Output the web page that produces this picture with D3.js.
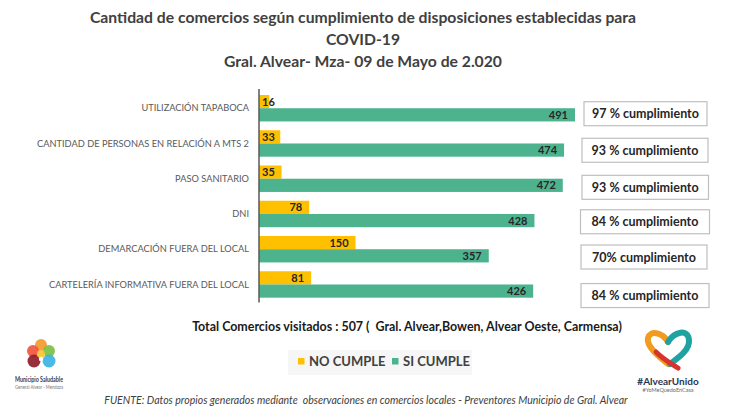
<!DOCTYPE html>
<html>
<head>
<meta charset="utf-8">
<script src="https://cdn.jsdelivr.net/npm/d3@7"></script>
<style>
  body { margin: 0; background: #fff; }
  svg { display: block; font-family: Lato, "Open Sans", sans-serif; }
  text { white-space: pre; }
</style>
</head>
<body>
<div id="viz"></div>
<script>
// data
var categories = [
  "UTILIZACIÓN TAPABOCA",
  "CANTIDAD DE PERSONAS EN RELACIÓN A MTS 2",
  "PASO SANITARIO",
  "DNI",
  "DEMARCACIÓN FUERA DEL LOCAL",
  "CARTELERÍA INFORMATIVA FUERA DEL LOCAL"
];
var series = ["NO CUMPLE", "SI CUMPLE"];
var noCumple = [16, 33, 35, 78, 150, 81];
var siCumple = [491, 474, 472, 428, 357, 426];
var cumplimiento = [
  "97 % cumplimiento",
  "93 % cumplimiento",
  "93 % cumplimiento",
  "84 % cumplimiento",
  "70% cumplimiento",
  "84 % cumplimiento"
];
var titleLines = [
  "Cantidad de comercios según cumplimiento de disposiciones establecidas para",
  "COVID-19",
  "Gral. Alvear- Mza- 09 de Mayo de 2.020"
];
var totalText = "Total Comercios visitados : 507 (  Gral. Alvear,Bowen, Alvear Oeste, Carmensa)";
var sourceText = "FUENTE: Datos propios generados mediante  observaciones en comercios locales - Preventores Municipio de Gral. Alvear";

var colors = { "NO CUMPLE": "#ffc000", "SI CUMPLE": "#4db38e" };

var width = 750, height = 420;

var svg = d3.select("#viz").append("svg")
  .attr("width", width)
  .attr("height", height);

// shrink/grow font so a text fills the width seen in the picture
function fit(sel, target) {
  sel.each(function() {
    var w = this.getComputedTextLength();
    var fs = parseFloat(d3.select(this).attr("font-size"));
    d3.select(this).attr("font-size", (fs * target / w).toFixed(2));
  });
}

// title
var title = svg.append("g").attr("fill", "#404040").attr("font-weight", "bold");
title.selectAll("text")
  .data(titleLines)
  .enter()
  .append("text")
    .attr("x", 363)
    .attr("y", function(d, i) { return 23 + i * 22; })
    .attr("text-anchor", "middle")
    .attr("font-size", 16)
    .text(function(d) { return d; });
fit(title.select("text"), 546);
var tfs = title.select("text").attr("font-size");
title.selectAll("text").attr("font-size", tfs);

// scales
var x = d3.scaleLinear().domain([0, 500]).range([259, 580.8]);
var y = d3.scaleBand().domain(categories).range([90.6, 302.1]).paddingInner(0.25).paddingOuter(0.125);
var ySub = d3.scaleBand().domain(series).range([0, y.bandwidth()]);

var rows = categories.map(function(c, i) {
  return { cat: c, values: [
    { key: "NO CUMPLE", value: noCumple[i] },
    { key: "SI CUMPLE", value: siCumple[i] }
  ], pct: cumplimiento[i] };
});

var group = svg.selectAll("g.row")
  .data(rows)
  .enter()
  .append("g")
    .attr("class", "row")
    .attr("transform", function(d) { return "translate(0," + y(d.cat) + ")"; });

group.selectAll("rect")
  .data(function(d) { return d.values; })
  .enter()
  .append("rect")
    .attr("x", x(0))
    .attr("y", function(d) { return ySub(d.key); })
    .attr("width", function(d) { return x(d.value) - x(0); })
    .attr("height", ySub.bandwidth())
    .attr("fill", function(d) { return colors[d.key]; });

group.selectAll("text.val")
  .data(function(d) { return d.values; })
  .enter()
  .append("text")
    .attr("class", "val")
    .attr("y", function(d) { return ySub(d.key) + ySub.bandwidth() / 2; })
    .attr("dy", "0.36em")
    .attr("text-anchor", "end")
    .attr("font-size", 11)
    .attr("font-weight", "bold")
    .attr("fill", "#262626")
    .text(function(d) { return d.value; })
    .attr("x", function(d) {
      var w = this.getComputedTextLength();
      return Math.max(x(d.value) - 7, x(0) + 3 + w);
    });

// category labels (squeezed sideways, narrow like the original font)
var catAxis = svg.append("g")
  .attr("transform", "translate(249,0)")
  .call(d3.axisLeft(y).tickSize(0).tickPadding(0))
  .call(function(g) { g.select(".domain").remove(); });
var catText = catAxis.selectAll("text")
  .attr("font-family", "Lato, 'Open Sans', sans-serif")
  .attr("font-size", 10.2)
  .attr("fill", "#595959");
var longest = catText.filter(function(d) { return d === categories[1]; }).node().getComputedTextLength();
var squeeze = 212 / longest;
catText
  .attr("x", 0)
  .attr("transform", "scale(" + squeeze.toFixed(4) + ",1)");

// axis line
svg.append("line")
  .attr("x1", x(0)).attr("x2", x(0))
  .attr("y1", 89).attr("y2", 302.5)
  .attr("stroke", "#595959")
  .attr("stroke-width", 1.5);

// percentage boxes
var boxOffset = [18.7, 20, 21.8, 21, 21, 24.3];
var boxX = [584, 582, 582, 580.5, 581, 581];
var boxW = [123, 126, 126.5, 129, 126, 128];
var box = group.append("g")
  .attr("transform", function(d, i) { return "translate(" + boxX[i] + "," + (boxOffset[i] - 12) + ")"; });
box.append("rect")
  .attr("width", function(d, i) { return boxW[i]; })
  .attr("height", 24)
  .attr("fill", "#fff")
  .attr("stroke", "#bfbfbf")
  .attr("stroke-width", 1.2);
box.append("text")
  .attr("x", function(d, i) { return boxW[i] / 2; })
  .attr("y", 12)
  .attr("dy", "0.36em")
  .attr("text-anchor", "middle")
  .attr("font-size", 12.5)
  .attr("font-weight", "bold")
  .attr("fill", "#262626")
  .text(function(d) { return d.pct; });

// total line
svg.append("text")
  .attr("x", 407)
  .attr("y", 331)
  .attr("text-anchor", "middle")
  .attr("font-size", 12.5)
  .attr("font-weight", "bold")
  .attr("fill", "#1a1a1a")
  .text(totalText)
  .call(fit, 430);

// legend
var legend = svg.append("g");
legend.append("rect")
  .attr("x", 288).attr("y", 350)
  .attr("width", 184).attr("height", 25)
  .attr("fill", "#f6f6f6");
var legX = [298, 392];
var li = legend.selectAll("g.item")
  .data(series)
  .enter()
  .append("g")
    .attr("class", "item")
    .attr("transform", function(d, i) { return "translate(" + legX[i] + ",358)"; });
li.append("rect")
  .attr("width", 6.5).attr("height", 6.5)
  .attr("fill", function(d) { return colors[d]; });
li.append("text")
  .attr("x", 11)
  .attr("y", 3.5)
  .attr("dy", "0.36em")
  .attr("font-size", 13)
  .attr("font-weight", "bold")
  .attr("fill", "#404040")
  .text(function(d) { return d; });

// source
svg.append("text")
  .attr("x", 366)
  .attr("y", 404)
  .attr("text-anchor", "middle")
  .attr("font-size", 10)
  .attr("font-style", "italic")
  .attr("fill", "#404040")
  .text(sourceText)
  .call(fit, 524);

// left logo (Municipio Saludable)
var logoL = svg.append("g").attr("transform", "translate(41,356)");
var petals = [
  { cx: 0, cy: -11, r: 6, c: "#f39a2e" },
  { cx: -8, cy: -5, r: 6, c: "#f0563d" },
  { cx: 8, cy: -5, r: 6, c: "#7cbf45" },
  { cx: -7, cy: 5, r: 6.5, c: "#8e1e2b" },
  { cx: 8, cy: 5, r: 6.5, c: "#3bb3e3" },
  { cx: 0, cy: -2, r: 4, c: "#f7c531" }
];
logoL.selectAll("circle")
  .data(petals)
  .enter()
  .append("circle")
    .attr("cx", function(d) { return d.cx; })
    .attr("cy", function(d) { return d.cy; })
    .attr("r", function(d) { return d.r; })
    .attr("fill", function(d) { return d.c; })
    .attr("opacity", 0.92);
logoL.append("circle").attr("cx", 0).attr("cy", 3).attr("r", 2.2).attr("fill", "#fff");
logoL.append("text")
  .attr("x", -26).attr("y", 26)
  .attr("font-size", 7)
  .attr("font-weight", "bold")
  .attr("fill", "#2f3b59")
  .attr("lengthAdjust", "spacingAndGlyphs")
  .attr("textLength", 48)
  .text("Municipio Saludable");
logoL.append("text")
  .attr("x", -26).attr("y", 33)
  .attr("font-size", 5.5)
  .attr("fill", "#7a7a7a")
  .attr("lengthAdjust", "spacingAndGlyphs")
  .attr("textLength", 48)
  .text("General Alvear - Mendoza");

// right logo (#AlvearUnido)
var logoR = svg.append("g").attr("transform", "translate(668,350)");
logoR.append("path")
  .attr("d", "M0,14 C-10,6 -22,-4 -20,-12 C-18,-20 -6,-18 0,-8")
  .attr("fill", "none").attr("stroke", "#f29c1f").attr("stroke-width", 6).attr("stroke-linecap", "round");
logoR.append("path")
  .attr("d", "M0,-8 C6,-18 20,-22 21,-10 C22,0 10,8 2,14")
  .attr("fill", "none").attr("stroke", "#1fa3a0").attr("stroke-width", 6).attr("stroke-linecap", "round");
logoR.append("path")
  .attr("d", "M-12,2 C-4,10 4,14 10,18")
  .attr("fill", "none").attr("stroke", "#d9342b").attr("stroke-width", 5).attr("stroke-linecap", "round");
logoR.append("text")
  .attr("x", 0).attr("y", 35)
  .attr("text-anchor", "middle")
  .attr("font-size", 10)
  .attr("font-weight", "bold")
  .attr("fill", "#2b3553")
  .text("#AlvearUnido");
logoR.append("text")
  .attr("x", 0).attr("y", 42)
  .attr("text-anchor", "middle")
  .attr("font-size", 5.5)
  .attr("fill", "#6a6a6a")
  .text("#YoMeQuedoEnCasa");
</script>
</body>
</html>
